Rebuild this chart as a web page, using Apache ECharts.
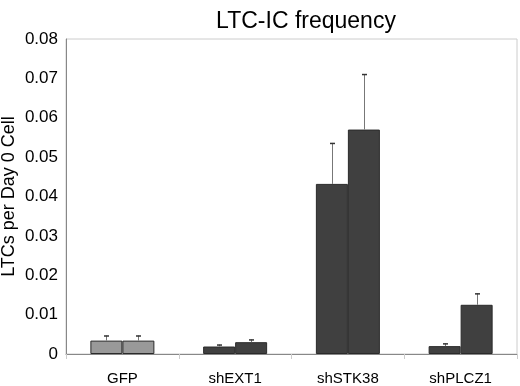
<!DOCTYPE html>
<html>
<head>
<meta charset="utf-8">
<script src="https://cdn.jsdelivr.net/npm/echarts@6/dist/echarts.min.js"></script>
<style>
  html, body { margin: 0; padding: 0; background: #fff; }
  #chart { width: 520px; height: 386px; }
</style>
</head>
<body>
<div id="chart"></div>
<script>
const CATEGORIES = ["GFP", "shEXT1", "shSTK38", "shPLCZ1"];
const VALUES_A = [0.0034, 0.0019, 0.0432, 0.0020];
const VALUES_B = [0.0034, 0.0030, 0.0570, 0.0125];
const ERR_A = [0.0013, 0.0005, 0.0104, 0.0007];
const ERR_B = [0.0013, 0.0007, 0.0141, 0.0029];
const Y_TICKS = [0, 0.01, 0.02, 0.03, 0.04, 0.05, 0.06, 0.07, 0.08];

const FONT = "Liberation Sans";
const BAR_WIDTH = 32;

function barColor(index) {
  return index === 0 ? "#999999" : "#404040";
}

function barData(values) {
  return values.map((v, i) => ({
    value: v,
    itemStyle: { color: barColor(i), borderColor: "#2a2a2a", borderWidth: 1 }
  }));
}

// error bar: upward whisker from bar top, small cap
function errorSeries(values, errs, offset) {
  return {
    type: "custom",
    silent: true,
    z: 5,
    data: values.map((v, i) => [i, v, v + errs[i]]),
    renderItem(params, api) {
      const base = api.coord([api.value(0), api.value(1)]);
      const top = api.coord([api.value(0), api.value(2)]);
      const x = Math.round(base[0] + offset) + 0.5;
      return {
        type: "group",
        children: [
          {
            type: "line",
            shape: { x1: x, y1: base[1], x2: x, y2: top[1] },
            style: { stroke: "#777", lineWidth: 1 }
          },
          {
            type: "line",
            shape: { x1: x - 2.5, y1: top[1] + 0.5, x2: x + 2.5, y2: top[1] + 0.5 },
            style: { stroke: "#333", lineWidth: 1.5 }
          }
        ]
      };
    }
  };
}

const chart = echarts.init(document.getElementById("chart"));

chart.setOption({
  animation: false,
  backgroundColor: "#fff",
  textStyle: { fontFamily: FONT },
  title: {
    text: "LTC-IC frequency",
    left: 301,
    top: 5,
    textAlign: "center",
    textStyle: { fontFamily: FONT, fontSize: 23, fontWeight: "normal", color: "#000" }
  },
  grid: {
    left: 66,
    right: 3,
    top: 39,
    bottom: 32,
    outerBoundsMode: "none",
    containLabel: false,
    show: true,
    borderColor: "#cccccc",
    borderWidth: 1
  },
  xAxis: {
    type: "category",
    data: CATEGORIES,
    axisLine: { lineStyle: { color: "#888", width: 1 } },
    axisTick: { show: true, length: 5, lineStyle: { color: "#ccc" } },
    axisLabel: { fontFamily: FONT, fontSize: 15, color: "#000", margin: 17 }
  },
  yAxis: {
    type: "value",
    min: Y_TICKS[0],
    max: Y_TICKS[Y_TICKS.length - 1],
    interval: 0.01,
    name: "LTCs per Day 0 Cell",
    nameLocation: "middle",
    nameRotate: 90,
    nameGap: 48,
    nameMoveOverlap: false,
    nameTextStyle: { fontFamily: FONT, fontSize: 18, color: "#000" },
    axisLine: { show: true, lineStyle: { color: "#888", width: 1 } },
    axisTick: { show: false },
    splitLine: { show: false },
    axisLabel: {
      fontFamily: FONT,
      fontSize: 17,
      color: "#000",
      margin: 8,
      formatter: v => (v === 0 ? "0" : v.toFixed(2))
    }
  },
  series: [
    {
      type: "bar",
      data: barData(VALUES_A),
      barWidth: BAR_WIDTH,
      barGap: "0%"
    },
    {
      type: "bar",
      data: barData(VALUES_B),
      barWidth: BAR_WIDTH,
      barGap: "0%"
    },
    errorSeries(VALUES_A, ERR_A, -BAR_WIDTH / 2),
    errorSeries(VALUES_B, ERR_B, BAR_WIDTH / 2)
  ]
});
</script>
</body>
</html>
